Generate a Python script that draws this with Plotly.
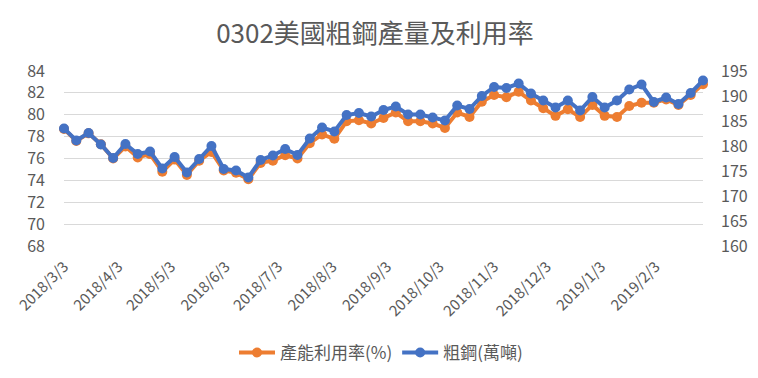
import datetime as dt
import plotly.graph_objects as go

# ---- data ----
n_weeks = 53
weeks = [(dt.date(2018, 3, 3) + dt.timedelta(days=7 * i)).isoformat() for i in range(n_weeks)]

utilization = [
    78.7, 77.6, 78.3, 77.3, 76.0, 77.1, 76.1, 76.4, 74.8, 75.9,
    74.5, 75.8, 76.6, 74.9, 74.7, 74.1, 75.6, 75.8, 76.3, 76.0,
    77.4, 78.2, 77.8, 79.4, 79.5, 79.2, 79.7, 80.2, 79.4, 79.4,
    79.2, 78.8, 80.2, 79.8, 81.2, 81.8, 81.6, 82.1, 81.3, 80.6,
    79.9, 80.5, 79.8, 80.9, 79.9, 79.8, 80.8, 81.1, 81.1, 81.4,
    80.9, 81.8, 82.8,
]
crude_steel = [
    183.5, 181.1, 182.6, 180.3, 177.6, 180.4, 178.4, 178.9, 175.5, 177.8,
    174.7, 177.4, 180.0, 175.4, 175.1, 173.7, 177.2, 178.1, 179.4, 178.2,
    181.5, 183.7, 182.9, 186.2, 186.6, 185.9, 187.2, 187.9, 186.3, 186.3,
    185.7, 185.1, 188.1, 187.4, 190.0, 191.8, 191.6, 192.5, 190.5, 189.1,
    187.7, 189.1, 187.1, 189.8, 187.7, 189.1, 191.3, 192.3, 188.8, 189.7,
    188.4, 190.6, 193.1,
]
tick_labels = [
    "2018/3/3", "2018/4/3", "2018/5/3", "2018/6/3", "2018/7/3", "2018/8/3",
    "2018/9/3", "2018/10/3", "2018/11/3", "2018/12/3", "2019/1/3", "2019/2/3",
]
left_ticks = [68, 70, 72, 74, 76, 78, 80, 82, 84]
right_ticks = [160, 165, 170, 175, 180, 185, 190, 195]

title_text = "0302美國粗鋼產量及利用率"
name_util = "產能利用率(%)"
name_steel = "粗鋼(萬噸)"

tick_vals = [dt.datetime.strptime(t, "%Y/%m/%d").date().isoformat() for t in tick_labels]

FONT = "Noto Sans CJK TC"
GREY = "#595959"
ORANGE = "#ED7D31"
BLUE = "#4472C4"

# the page body adds an 8px offset; the figure is sized to fill the rest
W, H = 750, 370

fig = go.Figure()
fig.add_trace(go.Scatter(
    x=weeks, y=utilization, name=name_util, mode="lines+markers",
    line=dict(color=ORANGE, width=4), marker=dict(color=ORANGE, size=10),
    cliponaxis=False, yaxis="y",
))
fig.add_trace(go.Scatter(
    x=weeks, y=crude_steel, name=name_steel, mode="lines+markers",
    line=dict(color=BLUE, width=4), marker=dict(color=BLUE, size=10),
    cliponaxis=False, yaxis="y2",
))

fig.update_layout(
    width=W, height=H,
    margin=dict(l=56, r=55, t=63, b=132, autoexpand=False),
    paper_bgcolor="white", plot_bgcolor="white",
    font=dict(family=FONT, color=GREY),
    title=dict(text=title_text, x=367 / W, xref="container", xanchor="center",
               y=1 - 26 / H, yref="container", yanchor="middle",
               font=dict(family=FONT, size=26, color=GREY)),
    showlegend=True,
    legend=dict(orientation="h", x=373 / W, xref="container", xanchor="center",
                y=1 - 345 / H, yref="container", yanchor="middle",
                font=dict(family=FONT, size=17, color=GREY), itemwidth=36,
                bgcolor="rgba(0,0,0,0)"),
    xaxis=dict(
        type="date", range=[weeks[0], weeks[-1]],
        tickvals=tick_vals, ticktext=tick_labels, tickangle=-45,
        showgrid=False, zeroline=False, showline=False, ticks="",
        tickfont=dict(family=FONT, size=15, color=GREY), automargin=False,
        ticklabelstandoff=8,
    ),
    yaxis=dict(
        range=[68, 84], tickvals=left_ticks, showgrid=True, gridcolor="#D9D9D9",
        gridwidth=1, zeroline=False, showline=False, ticks="",
        tickfont=dict(family=FONT, size=16, color=GREY), ticklabelstandoff=18,
        automargin=False,
    ),
    yaxis2=dict(
        range=[160, 195], tickvals=right_ticks, overlaying="y", side="right",
        showgrid=False, zeroline=False, showline=False, ticks="",
        tickfont=dict(family=FONT, size=16, color=GREY), ticklabelstandoff=17,
        automargin=False,
    ),
)

fig.write_html("out.html")
